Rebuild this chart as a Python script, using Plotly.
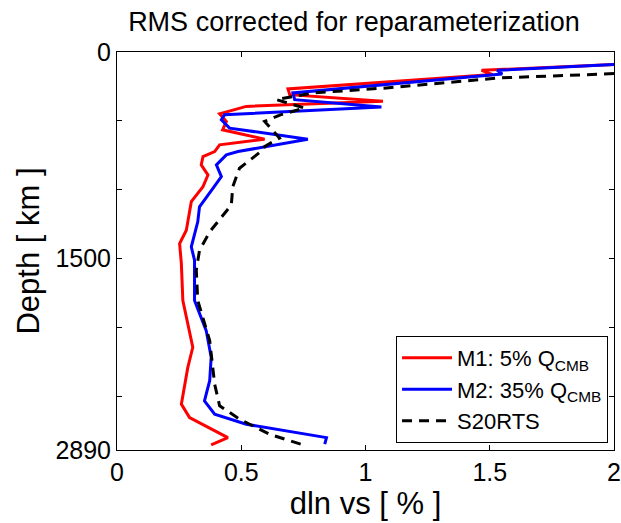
import plotly.graph_objects as go

# ---- data ----
m1_depth = [91, 133, 164, 268, 310, 358, 395, 448, 504, 565, 633, 674, 723, 759, 820, 893,
            978, 1087, 1294, 1391, 1537, 1804, 2144, 2290, 2557, 2654, 2800, 2853]
m1_dlnvs = [2.0, 1.467, 1.512, 0.688, 0.695, 1.07, 0.52, 0.413, 0.44, 0.425, 0.594, 0.413, 0.393, 0.346,
            0.339, 0.366, 0.346, 0.299, 0.279, 0.252, 0.259, 0.265, 0.305, 0.285, 0.259, 0.292, 0.446, 0.379]

m2_depth = [91, 133, 160, 297, 346, 400, 455, 492, 553, 633, 723, 747, 820, 905, 990, 1124,
            1233, 1415, 1512, 1804, 2023, 2217, 2387, 2533, 2630, 2703, 2800, 2848]
m2_dlnvs = [2.0, 1.53, 1.55, 0.708, 0.715, 1.064, 0.433, 0.42, 0.453, 0.768, 0.487, 0.44, 0.40, 0.42,
            0.386, 0.332, 0.325, 0.299, 0.312, 0.312, 0.359, 0.379, 0.373, 0.352, 0.393, 0.52, 0.843, 0.836]

s20_depth = [157, 188, 261, 297, 346, 407, 455, 504, 625, 686, 711, 844, 978, 1111, 1306, 1440,
             1585, 1804, 2096, 2412, 2569, 2666, 2776, 2853]
s20_dlnvs = [2.0, 1.54, 1.084, 0.789, 0.641, 0.755, 0.66, 0.594, 0.654, 0.594, 0.587, 0.493, 0.466,
             0.46, 0.373, 0.332, 0.319, 0.325, 0.373, 0.393, 0.413, 0.493, 0.614, 0.748]

x_ticks = [0, 0.5, 1, 1.5, 2]
x_ticklabels = ["0", "0.5", "1", "1.5", "2"]
y_ticks = [0, 500, 1000, 1500, 2000, 2500, 2890]
y_ticklabels = ["0", "", "", "1500", "", "", "2890"]

FONT = "Liberation Sans, Arial, sans-serif"

fig = go.Figure()
fig.add_trace(go.Scatter(x=m1_dlnvs, y=m1_depth, mode="lines",
                         name="M1: 5% Q<sub>CMB</sub>",
                         line=dict(color="#ff0000", width=3)))
fig.add_trace(go.Scatter(x=m2_dlnvs, y=m2_depth, mode="lines",
                         name="M2: 35% Q<sub>CMB</sub>",
                         line=dict(color="#0000ff", width=3)))
fig.add_trace(go.Scatter(x=s20_dlnvs, y=s20_depth, mode="lines",
                         name="S20RTS",
                         line=dict(color="#000000", width=3, dash="10px,7px")))

axis_common = dict(showline=True, linecolor="black", linewidth=1, mirror="ticks",
                   ticks="inside", ticklen=5, tickcolor="black", showgrid=False,
                   zeroline=False, automargin=False,
                   tickfont=dict(family=FONT, size=25, color="black"))

fig.update_layout(
    width=621, height=523,
    margin=dict(l=117, r=7, t=52, b=73),
    paper_bgcolor="white", plot_bgcolor="white",
    font=dict(family=FONT, color="black"),
    title=dict(text="RMS corrected for reparameterization",
               font=dict(family=FONT, size=27, color="black"),
               x=0.57, xanchor="center", y=0.958, yanchor="middle"),
    xaxis=dict(range=[0, 2], tickvals=x_ticks, ticktext=x_ticklabels,
               title=dict(text="dln vs [ % ]", font=dict(family=FONT, size=31), standoff=0),
               **axis_common),
    yaxis=dict(range=[2890, 0], tickvals=y_ticks, ticktext=y_ticklabels,
               title=dict(text="Depth [ km ]", font=dict(family=FONT, size=31), standoff=6),
               **axis_common),
    legend=dict(x=0.988, xanchor="right", y=0.018, yanchor="bottom",
                bgcolor="white", bordercolor="black", borderwidth=1,
                font=dict(family=FONT, size=22, color="black"),
                itemwidth=50, tracegroupgap=0),
    showlegend=True,
)

fig.write_html("out.html", config={"displayModeBar": False},
               post_script="document.body.style.margin='0';document.body.style.overflow='hidden';")
